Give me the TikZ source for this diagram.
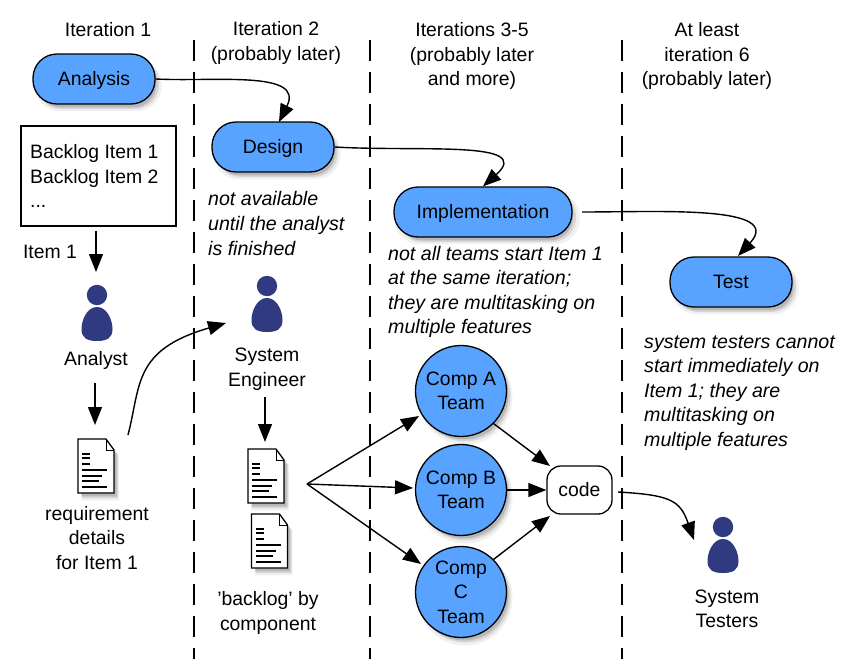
\documentclass[tikz,border=0pt]{standalone}
\usepackage{fontspec}
\setmainfont{Liberation Sans}
\usetikzlibrary{arrows.meta,shadows}
\definecolor{stepblue}{RGB}{88,163,255}
\definecolor{personblue}{RGB}{47,58,128}
\tikzset{softshade/.style={general shadow={shadow xshift=4pt,shadow yshift=-6pt,shadow scale=1.04,fill=black,opacity=.06},
                           general shadow={shadow xshift=4pt,shadow yshift=-5pt,fill=black,opacity=.10},
                           general shadow={shadow xshift=3pt,shadow yshift=-4pt,shadow scale=.98,fill=black,opacity=.14}},
         lab/.style={font=\fontsize{19.4}{24.6}\selectfont,align=center,inner sep=0pt},
         note/.style={font=\fontsize{19.6}{24.6}\selectfont\itshape,align=left,anchor=west,inner sep=0pt},
         stepbox/.style={lab,draw=black,line width=1.3pt,fill=stepblue,rounded corners=24pt,softshade,
                         minimum height=50pt,text height=13.5pt,text depth=0pt},
         team/.style={lab,circle,draw=black,line width=1.3pt,fill=stepblue,softshade,minimum size=91pt},
         arr/.style={-{Triangle[length=18pt,width=14pt]},line width=1.4pt},
         iterline/.style={line width=2pt,dash pattern=on 21pt off 11pt},
         person/.pic={\node[inner sep=0pt,minimum width=32pt,minimum height=57pt] (-box) {};
                      \fill[personblue] (0,-19) circle (10.2pt);
                      \fill[personblue] (0,-7) .. controls (-10,-7) and (-15.5,6) .. (-15.5,15)
                        .. controls (-15.5,24) and (-10,27) .. (0,27)
                        .. controls (10,27) and (15.5,24) .. (15.5,15)
                        .. controls (15.5,6) and (10,-7) .. (0,-7) -- cycle;},
         docpage/.pic={\node[inner sep=0pt,minimum width=37pt,minimum height=54pt] (-box) {};
                      \draw[line width=1.3pt,fill=white,softshade] (-18,-27) -- (10,-27) -- (18,-16) -- (18,27) -- (-18,27) -- cycle;
                      \draw[line width=1pt] (10,-27) -- (10,-16) -- (18,-16);
                      \foreach \y/\w in {-12/-6,-8/-6,-2/-6,4/11,10/6,15/3,21/11}
                        \draw[line width=1.2pt] (-14,\y) -- (\w,\y);}}

\begin{document}
\begin{tikzpicture}[x=1pt,y=-1pt]
    \useasboundingbox[fill=white] (0,0) rectangle (863,667);
    % iteration boundaries
    \foreach \x/\n in {194/1,370/2,622/3}
      {\coordinate (top\n) at (\x,40); \coordinate (bot\n) at (\x,659); \draw[iterline] (top\n)--(bot\n);}
    % headings
    \node[lab] (head1) at (108,30) {Iteration 1};
    \node[lab] (head2) at (276,43) {Iteration 2\\(probably later)};
    \node[lab] (head3) at (472,56) {Iterations 3-5\\(probably later\\and more)};
    \node[lab] (head4) at (707,56) {At least\\iteration 6\\(probably later)};
    % process steps
    \node[stepbox,minimum width=122pt] (analysis) at (94,79) {Analysis};
    \node[stepbox,minimum width=122pt] (design) at (273,147) {Design};
    \node[stepbox,minimum width=178pt] (impl) at (483,212) {Implementation};
    \node[stepbox,minimum width=122pt] (test) at (731,282) {Test};
    \coordinate (designin) at (279,122);
    \coordinate (implout) at (582,212);
    \coordinate (testin) at (738,256);
    \draw[arr] (analysis.east) .. controls (215,82) and (305,70) .. (designin);
    \draw[arr] (design.east) .. controls (420,152) and (535,140) .. (impl.north);
    \draw[arr] (implout) .. controls (660,212) and (785,205) .. (testin);
    % first column
    \node[draw=black,line width=1.1pt,inner sep=0pt,minimum width=155pt,minimum height=100pt] (backlog) at (98.5,176) {};
    \node[lab,align=left,anchor=west] (backlogtxt) at (30,176) {Backlog Item 1\\Backlog Item 2\\...};
    \node[lab] (item1) at (50,252) {Item 1};
    \pic (analyst) at (97,314) {person};
    \node[lab] (analystlab) at (96,360) {Analyst};
    \pic (req) at (96,466) {docpage};
    \node[lab] (reqlab) at (97,538) {requirement\\details\\for Item 1};
    \coordinate (analysttop) at (96,272);
    \coordinate (reqtop) at (95,425);
    \coordinate (reqout) at (128,435);
    \coordinate (engin) at (226,323);
    \draw[arr] (backlog.south -| analysttop) ++(0,4) -- (analysttop);
    \draw[arr] (analystlab.south -| reqtop) ++(0,14) -- (reqtop);
    \draw[arr] (reqout) .. controls (141,385) and (133,350) .. (engin);
    % second column
    \node[note] (designnote) at (208,223.5) {not available\\until the analyst\\is finished};
    \pic (engineer) at (267,305) {person};
    \node[lab] (engineerlab) at (267,369) {System\\Engineer};
    \pic (comp1) at (266,476) {docpage};
    \pic (comp2) at (269.5,541) {docpage};
    \node[lab] (complab) at (268,613) {'backlog' by\\component};
    \coordinate (comptop) at (265,442);
    \draw[arr] (engineerlab.south -| comptop) ++(0,7) -- (comptop);
    % teams
    \node[note] (implnote) at (388,292) {not all teams start Item 1\\at the same iteration;\\they are multitasking on\\multiple features};
    \node[team] (teamA) at (461,391) {Comp A\\Team};
    \node[team] (teamB) at (461,490) {Comp B\\Team};
    \node[team] (teamC) at (461,592) {Comp\\C\\Team};
    \node[lab,draw=black,line width=1.3pt,fill=white,rounded corners=14pt,minimum width=65pt,minimum height=48pt] (code) at (579.5,490) {code};
    \coordinate (fan) at (307,484);
    \coordinate (teamAin) at (419,416);
    \coordinate (teamBin) at (413,488);
    \coordinate (teamCin) at (421,564);
    \draw[arr] (fan) -- (teamAin);
    \draw[arr] (fan) -- (teamBin);
    \draw[arr] (fan) -- (teamCin);
    \coordinate (codeA) at (550,466);
    \coordinate (codeC) at (550,516);
    \draw[arr] (teamA.-45) -- (codeA);
    \draw[arr] (teamB.east) -- (code.west);
    \draw[arr] (teamC.45) -- (codeC);
    % test column
    \node[note] (testnote) at (644,393) {system testers cannot\\start immediately on\\Item 1; they are\\multitasking on\\multiple features};
    \pic (testers) at (723,546) {person};
    \node[lab] (testerslab) at (727,609) {System\\Testers};
    \coordinate (codeout) at (618,492);
    \coordinate (testersin) at (694,540);
    \draw[arr] (codeout) .. controls (670,495) and (680,500) .. (testersin);
\end{tikzpicture}
\end{document}
